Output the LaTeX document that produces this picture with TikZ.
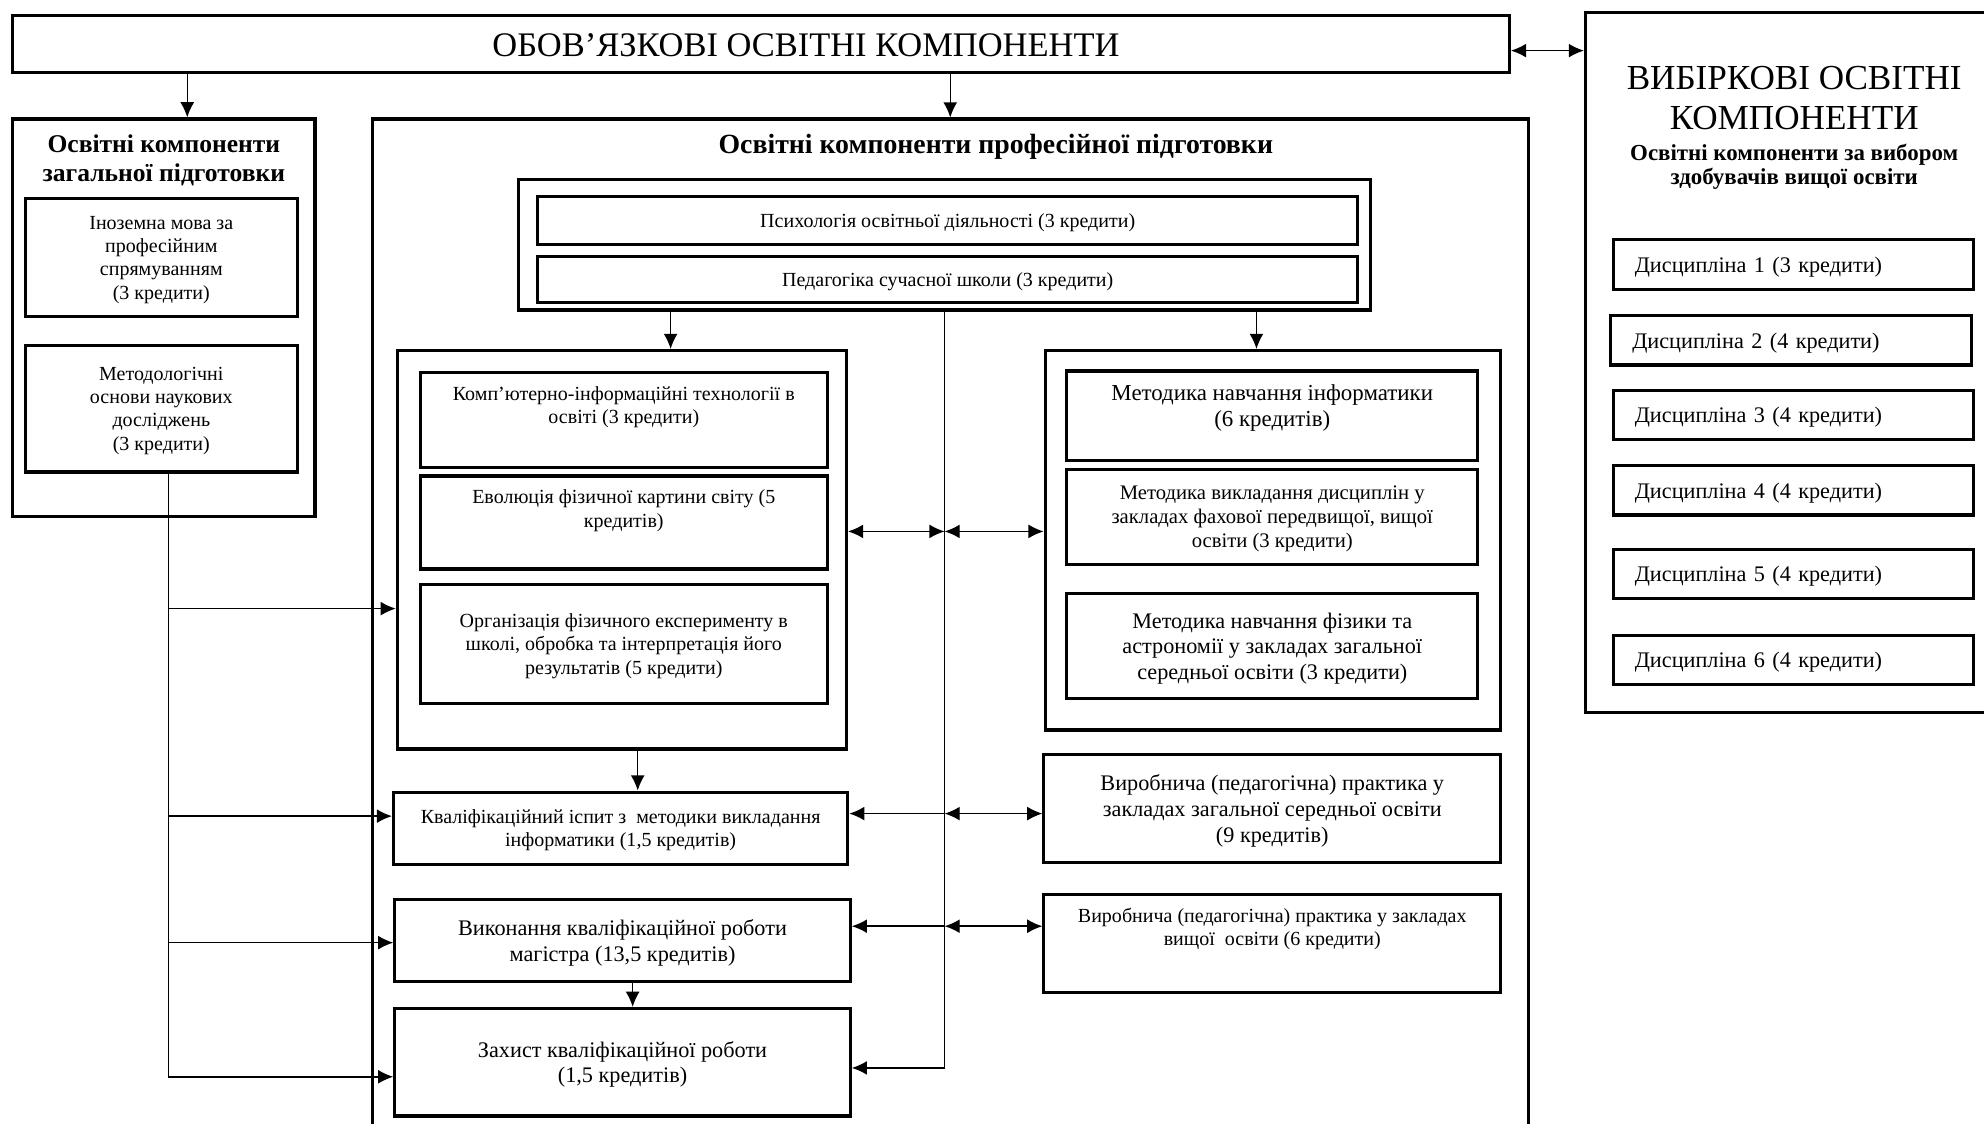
\documentclass[tikz,border=0pt]{standalone}
\usepackage{fontspec}
\setmainfont{Liberation Serif}
\usetikzlibrary{arrows.meta,positioning}

\tikzset{
  box/.style={draw,line width=1.4pt,align=center,inner sep=2pt,text depth=-4pt},
  topbox/.style={box,anchor=north,inner ysep=6pt,text height=17pt},
  disc/.style={box,align=left,text width=5.02cm,inner xsep=0.34cm,minimum height=0.78cm,font=\fontsize{10}{12}\selectfont},
  f9/.style={font=\fontsize{9}{10.5}\selectfont},
  f10/.style={font=\fontsize{10}{11.5}\selectfont},
  link/.style={line width=0.65pt},
}

\begin{document}
\begin{tikzpicture}[x=0.02cm,y=-0.02cm,>={Latex[length=2.4mm,width=2.2mm]}]
\useasboundingbox (0,0) rectangle (1568,888);
\clip (0,0) rectangle (1568,888);
\node[box,minimum width=23.66cm,minimum height=0.9cm] (k01) at (601.5,34.5) {};
\node[font=\fontsize{15.5}{18}\selectfont] (k01t) at (637,36) {ОБОВ’ЯЗКОВІ ОСВІТНІ КОМПОНЕНТИ};
\node[box,minimum width=7.34cm,minimum height=11.06cm] (k02) at (1436.5,286.5) {};
\node[align=center,font=\fontsize{15.8}{17.8}\selectfont] (k03) at (1418,77.5) {ВИБІРКОВІ ОСВІТНІ\\КОМПОНЕНТИ};
\node[align=center,font=\bfseries\fontsize{10.3}{10.9}\selectfont] (k04) at (1418,132) {Освітні компоненти за вибором\\здобувачів вищої освіти};
\node[disc] (k05) at (1417.5,209) {Дисципліна 1 (3 кредити)};
\node[disc] (k06) at (1415.5,269) {Дисципліна 2 (4 кредити)};
\node[disc] (k07) at (1417.5,328) {Дисципліна 3 (4 кредити)};
\node[disc] (k08) at (1417.5,387.5) {Дисципліна 4 (4 кредити)};
\node[disc] (k09) at (1417.5,453.5) {Дисципліна 5 (4 кредити)};
\node[disc] (k10) at (1417.5,521.5) {Дисципліна 6 (4 кредити)};
\coordinate (t1) at (0,40);
\draw[link,<->] (k01.east |- t1) -- (k02.west |- t1);

\node[box,minimum width=4.78cm,minimum height=6.28cm] (k11) at (129.5,251) {};
\node[align=center,font=\bfseries\fontsize{11.5}{13}\selectfont] (k12) at (129.5,126.5) {Освітні компоненти\\загальної підготовки};
\node[box,f9,minimum width=4.3cm,minimum height=1.86cm] (k13) at (127.5,203.5) {Іноземна мова за\\професійним\\спрямуванням\\(3 кредити)};
\node[box,f9,minimum width=4.3cm,minimum height=2.0cm] (k14) at (127.5,323) {Методологічні\\основи наукових\\досліджень\\(3 кредити)};
\coordinate (xg) at (148,0);
\draw[link,->] (k01.south -| xg) -- (k11.north -| xg);

\node[box,minimum width=18.28cm,minimum height=17.32cm] (k15) at (751,527) {};
\node[font=\bfseries\fontsize{12.5}{14}\selectfont] (k16) at (787,116) {Освітні компоненти професійної підготовки};
\draw[link,->] (k01.south -| k15.north) -- (k15.north);
\node[box,minimum width=13.46cm,minimum height=2.06cm] (k17) at (746.5,193.5) {};
\node[box,f9,minimum width=12.96cm,minimum height=0.76cm] (k18) at (749,174) {Психологія освітньої діяльності (3 кредити)};
\node[box,f9,minimum width=12.96cm,minimum height=0.72cm] (k19) at (749,221) {Педагогіка сучасної школи (3 кредити)};

\node[box,minimum width=7.1cm,minimum height=6.3cm] (k20) at (491.5,434.5) {};
\node[topbox,f9,minimum width=6.44cm,text depth=13.9pt] (k21) at (493,293) {Комп’ютерно-інформаційні технології в\\освіті (3 кредити)};
\node[topbox,f9,minimum width=6.44cm,text depth=12.8pt] (k22) at (493,375) {Еволюція фізичної картини світу (5\\кредитів)};
\node[box,f9,minimum width=6.44cm,minimum height=1.88cm] (k23) at (493,509) {Організація фізичного експерименту в\\школі, обробка та інтерпретація його\\результатів (5 кредити)};

\node[box,minimum width=7.2cm,minimum height=6.0cm] (k24) at (1006,427) {};
\node[topbox,minimum width=6.5cm,inner ysep=6.1pt,text height=19pt,text depth=9.1pt,font=\fontsize{10.3}{12}\selectfont] (k25) at (1005.5,292) {Методика навчання інформатики\\(6 кредитів)};
\node[box,minimum width=6.5cm,minimum height=1.5cm,font=\fontsize{9.3}{10.8}\selectfont] (k26) at (1005.5,408.5) {Методика викладання дисциплін у\\закладах фахової передвищої, вищої\\освіти (3 кредити)};
\node[box,f10,minimum width=6.5cm,minimum height=1.66cm] (k27) at (1005.5,510.5) {Методика навчання фізики та\\астрономії у закладах загальної\\середньої освіти (3 кредити)};

\coordinate (xa) at (530,0);
\coordinate (xb) at (993,0);
\draw[link,->] (k17.south -| xa) -- (k20.north -| xa);
\draw[link,->] (k17.south -| xb) -- (k24.north -| xb);

\node[box,f9,minimum width=7.18cm,minimum height=1.14cm] (k28) at (490.5,654.5) {Кваліфікаційний іспит з\ \ методики викладання\\інформатики (1,5 кредитів)};
\node[box,f10,minimum width=7.22cm,minimum height=1.72cm] (k29) at (1005.5,639) {Виробнича (педагогічна) практика у\\закладах загальної середньої освіти\\(9 кредитів)};
\node[box,f10,minimum width=7.2cm,minimum height=1.3cm] (k30) at (492,743.5) {Виконання кваліфікаційної роботи\\магістра (13,5 кредитів)};
\node[topbox,f9,minimum width=7.22cm,text depth=15.1pt] (k31) at (1005.5,706) {Виробнича (педагогічна) практика у закладах\\вищої\ \ освіти (6 кредити)};
\node[box,f10,minimum width=7.2cm,minimum height=1.7cm] (k32) at (492,839.5) {Захист кваліфікаційної роботи\\(1,5 кредитів)};

\coordinate (xk) at (504,0);
\coordinate (xz) at (500,0);
\draw[link,->] (k20.south -| xk) -- (k28.north -| xk);
\draw[link,->] (k30.south -| xz) -- (k32.north -| xz);

\coordinate (m1) at (746.5,420);
\coordinate (m2) at (746.5,643);
\coordinate (m3) at (746.5,732);
\coordinate (m4) at (746.5,844);
\draw[link,->] (k17.south) -- (m4) -- (k32.east |- m4);
\draw[link,<->] (k20.east |- m1) -- (m1);
\draw[link,<->] (m1) -- (k24.west |- m1);
\draw[link,->] (m2) -- (k28.east |- m2);
\draw[link,<->] (m2) -- (k29.west |- m2);
\draw[link,->] (m3) -- (k30.east |- m3);
\draw[link,<->] (m3) -- (k31.west |- m3);

\coordinate (l1) at (133,481);
\coordinate (l2) at (133,645);
\coordinate (l3) at (133,745);
\coordinate (l4) at (133,851);
\draw[link] (k14.south -| l1) -- (l4);
\draw[link,->] (l1) -- (k20.west |- l1);
\draw[link,->] (l2) -- (k28.west |- l2);
\draw[link,->] (l3) -- (k30.west |- l3);
\draw[link,->] (l4) -- (k32.west |- l4);
\end{tikzpicture}
\end{document}
